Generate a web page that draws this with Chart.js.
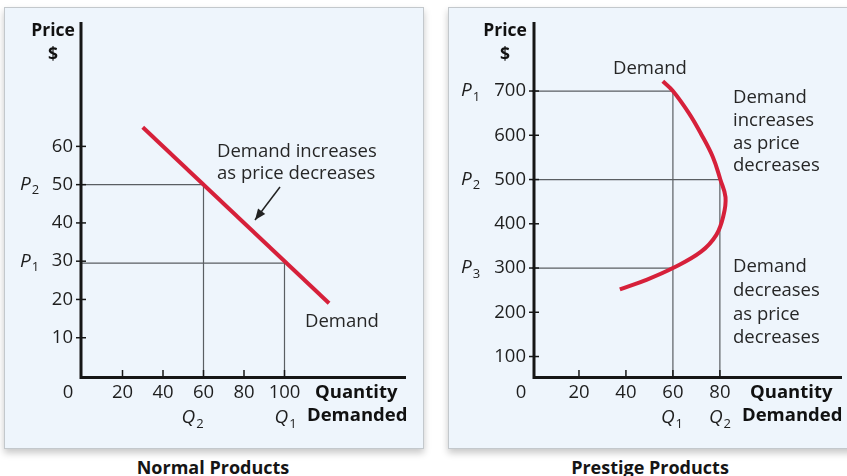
<!DOCTYPE html>
<html><head><meta charset="utf-8">
<script src="https://cdn.jsdelivr.net/npm/chart.js@4.4.1/dist/chart.umd.min.js"></script>
<style>
html,body{margin:0;padding:0;background:#fff;width:847px;height:476px;overflow:hidden;}
.panel{position:absolute;background:#eef5fc;border:1px solid #c3c8cc;box-shadow:0 4px 7px rgba(0,0,0,0.22);}
canvas{position:absolute;left:0;top:0;}
.title{position:absolute;top:455px;font:bold 18px "Open Sans",sans-serif;color:#151515;text-align:center;width:240px;}
</style></head>
<body>
<div class="panel" style="left:4px;top:7px;width:418px;height:440px;"></div>
<div class="panel" style="left:448px;top:7px;width:410px;height:440px;"></div>
<div class="title" style="left:93px;">Normal Products</div>
<div class="title" style="left:530px;">Prestige Products</div>
<canvas id="c1" width="847" height="476"></canvas>
<canvas id="c2" width="847" height="476"></canvas>
<script>
// ---- Normal products ----
const normalPriceTicks = [10, 20, 30, 40, 50, 60];
const normalQtyTicks = [20, 40, 60, 80, 100];
const normalDemandQ = [30, 122];
const normalDemandP = [65, 19];
const normalP2 = 50, normalQ2 = 60;
const normalP1 = 29.5, normalQ1 = 100;

// ---- Prestige products ----
const prestigePriceTicks = [100, 200, 300, 400, 500, 600, 700];
const prestigeQtyTicks = [20, 40, 60, 80];
const prestigeDemandQ = [55.7, 60, 66.8, 72, 77, 80.2, 82.4, 81.5, 78.5, 72, 60, 49, 37.4];
const prestigeDemandP = [722, 700, 650, 603, 551, 500, 460, 418, 375, 337, 300, 274, 252];
const prestigeP1 = 700, prestigeQ1 = 60;
const prestigeP2 = 500, prestigeQ2 = 80;
const prestigeP3 = 300;

const RED = '#d6203a', GUIDE = '#5a5e62', AXIS = '#161616', TXT = '#1e1e1e';
const FONT = '"Open Sans", sans-serif';

function pts(xs, ys){ return xs.map((x,i)=>({x:x, y:ys[i]})); }

function subLabel(ctx, x, y, main, sub){
  ctx.textAlign='left'; ctx.textBaseline='middle';
  ctx.font='italic 19px '+FONT; ctx.fillStyle=TXT;
  ctx.fillText(main, x, y);
  const w = ctx.measureText(main).width;
  ctx.font='13px '+FONT;
  ctx.fillText(sub, x+w+1, y+6);
}

function makePlugin(cfg){
  return {
    id:'decor',
    afterDatasetsDraw(chart){
      const ctx = chart.ctx, xs = chart.scales.x, ys = chart.scales.y, ca = chart.chartArea;
      const ax = xs.getPixelForValue(0) + cfg.axisOff, ay = ca.bottom;
      ctx.save();
      // axes
      ctx.strokeStyle = AXIS; ctx.lineWidth = 3; ctx.lineCap='butt';
      ctx.beginPath(); ctx.moveTo(ax, ca.top); ctx.lineTo(ax, ay+1.5); ctx.lineTo(ca.right, ay+1.5); ctx.stroke();
      // ticks
      ctx.lineWidth = 1.5;
      cfg.yTicks.forEach(v=>{ const p=ys.getPixelForValue(v); ctx.beginPath(); ctx.moveTo(ax-5,p); ctx.lineTo(ax+5,p); ctx.stroke(); });
      cfg.xTicks.forEach(v=>{ const p=xs.getPixelForValue(v); ctx.beginPath(); ctx.moveTo(p,ay-6); ctx.lineTo(p,ay); ctx.stroke(); });
      // tick labels
      ctx.fillStyle = TXT; ctx.font = '18.5px '+FONT; ctx.textBaseline='middle';
      ctx.textAlign='right';
      cfg.yTicks.forEach(v=>{ ctx.fillText(String(v), ax-8, ys.getPixelForValue(v)); });
      ctx.textAlign='center';
      cfg.xTicks.forEach(v=>{ ctx.fillText(String(v), xs.getPixelForValue(v), 393); });
      ctx.fillText('0', cfg.zeroX, 393);
      // P and Q labels
      cfg.pLabels.forEach(l=>subLabel(ctx, cfg.pX, ys.getPixelForValue(l.v), 'P', l.s));
      cfg.qLabels.forEach(l=>subLabel(ctx, xs.getPixelForValue(l.v)+l.dx, 418, 'Q', l.s));
      // axis titles
      ctx.font='bold 17.5px '+FONT; ctx.fillStyle='#111';
      ctx.textAlign='center';
      ctx.fillText('Price', cfg.priceX, 31);
      ctx.fillText('$', cfg.priceX, 55);
      ctx.font='bold 18.5px '+FONT;
      ctx.textAlign='left';
      ctx.fillText('Quantity', cfg.qtyX, 393);
      ctx.fillText('Demanded', cfg.qtyX-8, 416);
      // annotations
      ctx.font='18.5px '+FONT; ctx.fillStyle='#262626';
      cfg.notes.forEach(n=>ctx.fillText(n.t, n.x, n.y));
      if (cfg.arrow){
        const a=cfg.arrow;
        ctx.strokeStyle='#222'; ctx.lineWidth=1.5;
        ctx.beginPath(); ctx.moveTo(a[0],a[1]); ctx.lineTo(a[2],a[3]); ctx.stroke();
        const ang=Math.atan2(a[3]-a[1], a[2]-a[0]);
        ctx.fillStyle='#222';
        ctx.beginPath();
        ctx.moveTo(a[2],a[3]);
        ctx.lineTo(a[2]-11*Math.cos(ang)+4.5*Math.sin(ang), a[3]-11*Math.sin(ang)-4.5*Math.cos(ang));
        ctx.lineTo(a[2]-11*Math.cos(ang)-4.5*Math.sin(ang), a[3]-11*Math.sin(ang)+4.5*Math.cos(ang));
        ctx.closePath(); ctx.fill();
      }
      ctx.restore();
    }
  };
}

function guide(data){ return {data:data, showLine:true, borderColor:GUIDE, borderWidth:1.2, pointRadius:0, tension:0, order:2}; }

function baseOptions(pad, xmin, xmax, ymin, ymax){
  return {
    responsive:false, animation:false, events:[],
    layout:{padding:pad},
    plugins:{legend:{display:false}, tooltip:{enabled:false}},
    scales:{
      x:{type:'linear', display:false, min:xmin, max:xmax},
      y:{type:'linear', display:false, min:ymin, max:ymax}
    }
  };
}

new Chart(document.getElementById('c1'), {
  type:'scatter',
  data:{datasets:[
    {data:pts(normalDemandQ, normalDemandP), showLine:true, borderColor:RED, borderWidth:4, pointRadius:0, order:0},
    guide([{x:0,y:normalP2},{x:normalQ2,y:normalP2},{x:normalQ2,y:0}]),
    guide([{x:0,y:normalP1},{x:normalQ1,y:normalP1},{x:normalQ1,y:0}])
  ]},
  options:baseOptions({left:82, right:441, top:22, bottom:100}, 0, 160, 0, 92.5),
  plugins:[makePlugin({
    axisOff:-1, yTicks:normalPriceTicks, xTicks:normalQtyTicks, zeroX:68,
    pX:20, pLabels:[{v:50,s:'2'},{v:30,s:'1'}],
    qLabels:[{v:60,s:'2',dx:-22},{v:100,s:'1',dx:-10}],
    priceX:53, qtyX:315,
    notes:[{t:'Demand increases',x:217,y:152},{t:'as price decreases',x:217,y:174},{t:'Demand',x:305,y:322}],
    arrow:[280,187,255,220]
  })]
});

new Chart(document.getElementById('c2'), {
  type:'scatter',
  data:{datasets:[
    {data:pts(prestigeDemandQ, prestigeDemandP), showLine:true, borderColor:RED, borderWidth:4, pointRadius:0, tension:0.4, order:0},
    guide([{x:0,y:prestigeP1},{x:prestigeQ1,y:prestigeP1},{x:prestigeQ1,y:56}]),
    guide([{x:0,y:prestigeP2},{x:prestigeQ2,y:prestigeP2},{x:prestigeQ2,y:56}]),
    guide([{x:0,y:prestigeP3},{x:prestigeQ1,y:prestigeP3}])
  ]},
  options:baseOptions({left:532, right:5, top:22, bottom:100}, 0, 132, 56, 856),
  plugins:[makePlugin({
    axisOff:2, yTicks:prestigePriceTicks, xTicks:prestigeQtyTicks, zeroX:521,
    pX:461, pLabels:[{v:700,s:'1'},{v:500,s:'2'},{v:300,s:'3'}],
    qLabels:[{v:60,s:'1',dx:-12},{v:80,s:'2',dx:-11}],
    priceX:505, qtyX:750,
    notes:[{t:'Demand',x:613,y:69},
      {t:'Demand',x:733,y:98},{t:'increases',x:733,y:121},{t:'as price',x:733,y:144},{t:'decreases',x:733,y:166},
      {t:'Demand',x:733,y:267},{t:'decreases',x:733,y:291},{t:'as price',x:733,y:315},{t:'decreases',x:733,y:338}]
  })]
});
</script>
</body></html>
